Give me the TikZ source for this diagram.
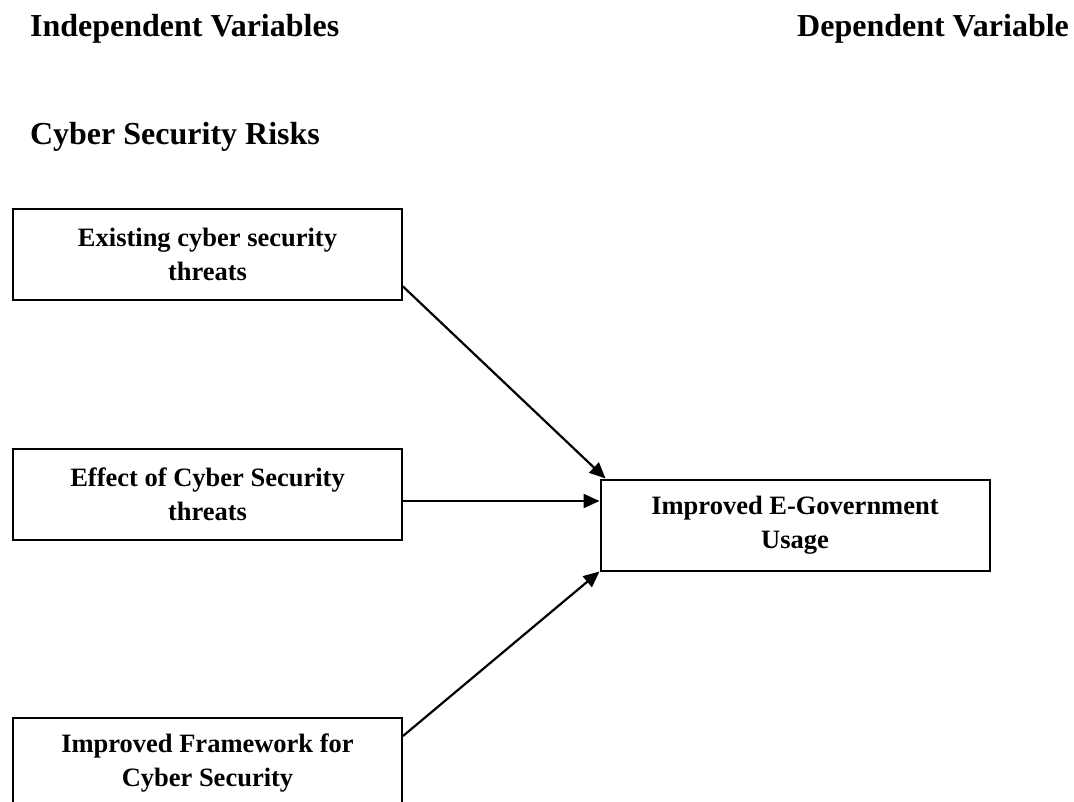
\documentclass[tikz,border=0pt]{standalone}
\usepackage{fontspec}
\setmainfont{Liberation Serif}
\usetikzlibrary{positioning,arrows.meta}
\tikzset{var node/.style={rectangle, draw, line width=2pt, minimum width=389pt, minimum height=91pt, inner sep=0pt, align=center, font=\fontsize{26.5}{34}\selectfont\bfseries},
head node/.style={anchor=base west, inner sep=0pt, font=\fontsize{32}{38}\selectfont\bfseries},}

\begin{document}
\begin{tikzpicture}[x=1pt, y=-1pt, >={Triangle[length=16pt,width=14pt]}, line width=2.2pt]
        \useasboundingbox (0,0) rectangle (1074,802);
        % Headings
        \node[head node] (indep) at (29,37) {Independent Variables};
        \node[head node, anchor=base east] (dep) at (1070,37) {Dependent Variable};
        \node[head node] (risks) at (29,145) {Cyber Security Risks};
        % Nodes
        \node[var node] (threats) at (207.5,254.5) {Existing cyber security\\threats};
        \node[var node] [below = 147pt of threats] (effect) {Effect of Cyber Security\\threats};
        \node[var node] [below = 176pt of effect] (frame) {Improved Framework for\\Cyber Security};
        \node[var node] (usage) at (795,525) {Improved E-Government\\Usage};
        % Paths
        \draw[->] ([yshift=-32pt]threats.east) -- ([xshift=6pt]usage.north west);
        \draw[->] ([yshift=-6.5pt]effect.east) -- ([yshift=-6.5pt]effect.east -| usage.west);
        \draw[->] ([yshift=-19pt]frame.north east) -- (usage.south west);
\end{tikzpicture}
\end{document}
